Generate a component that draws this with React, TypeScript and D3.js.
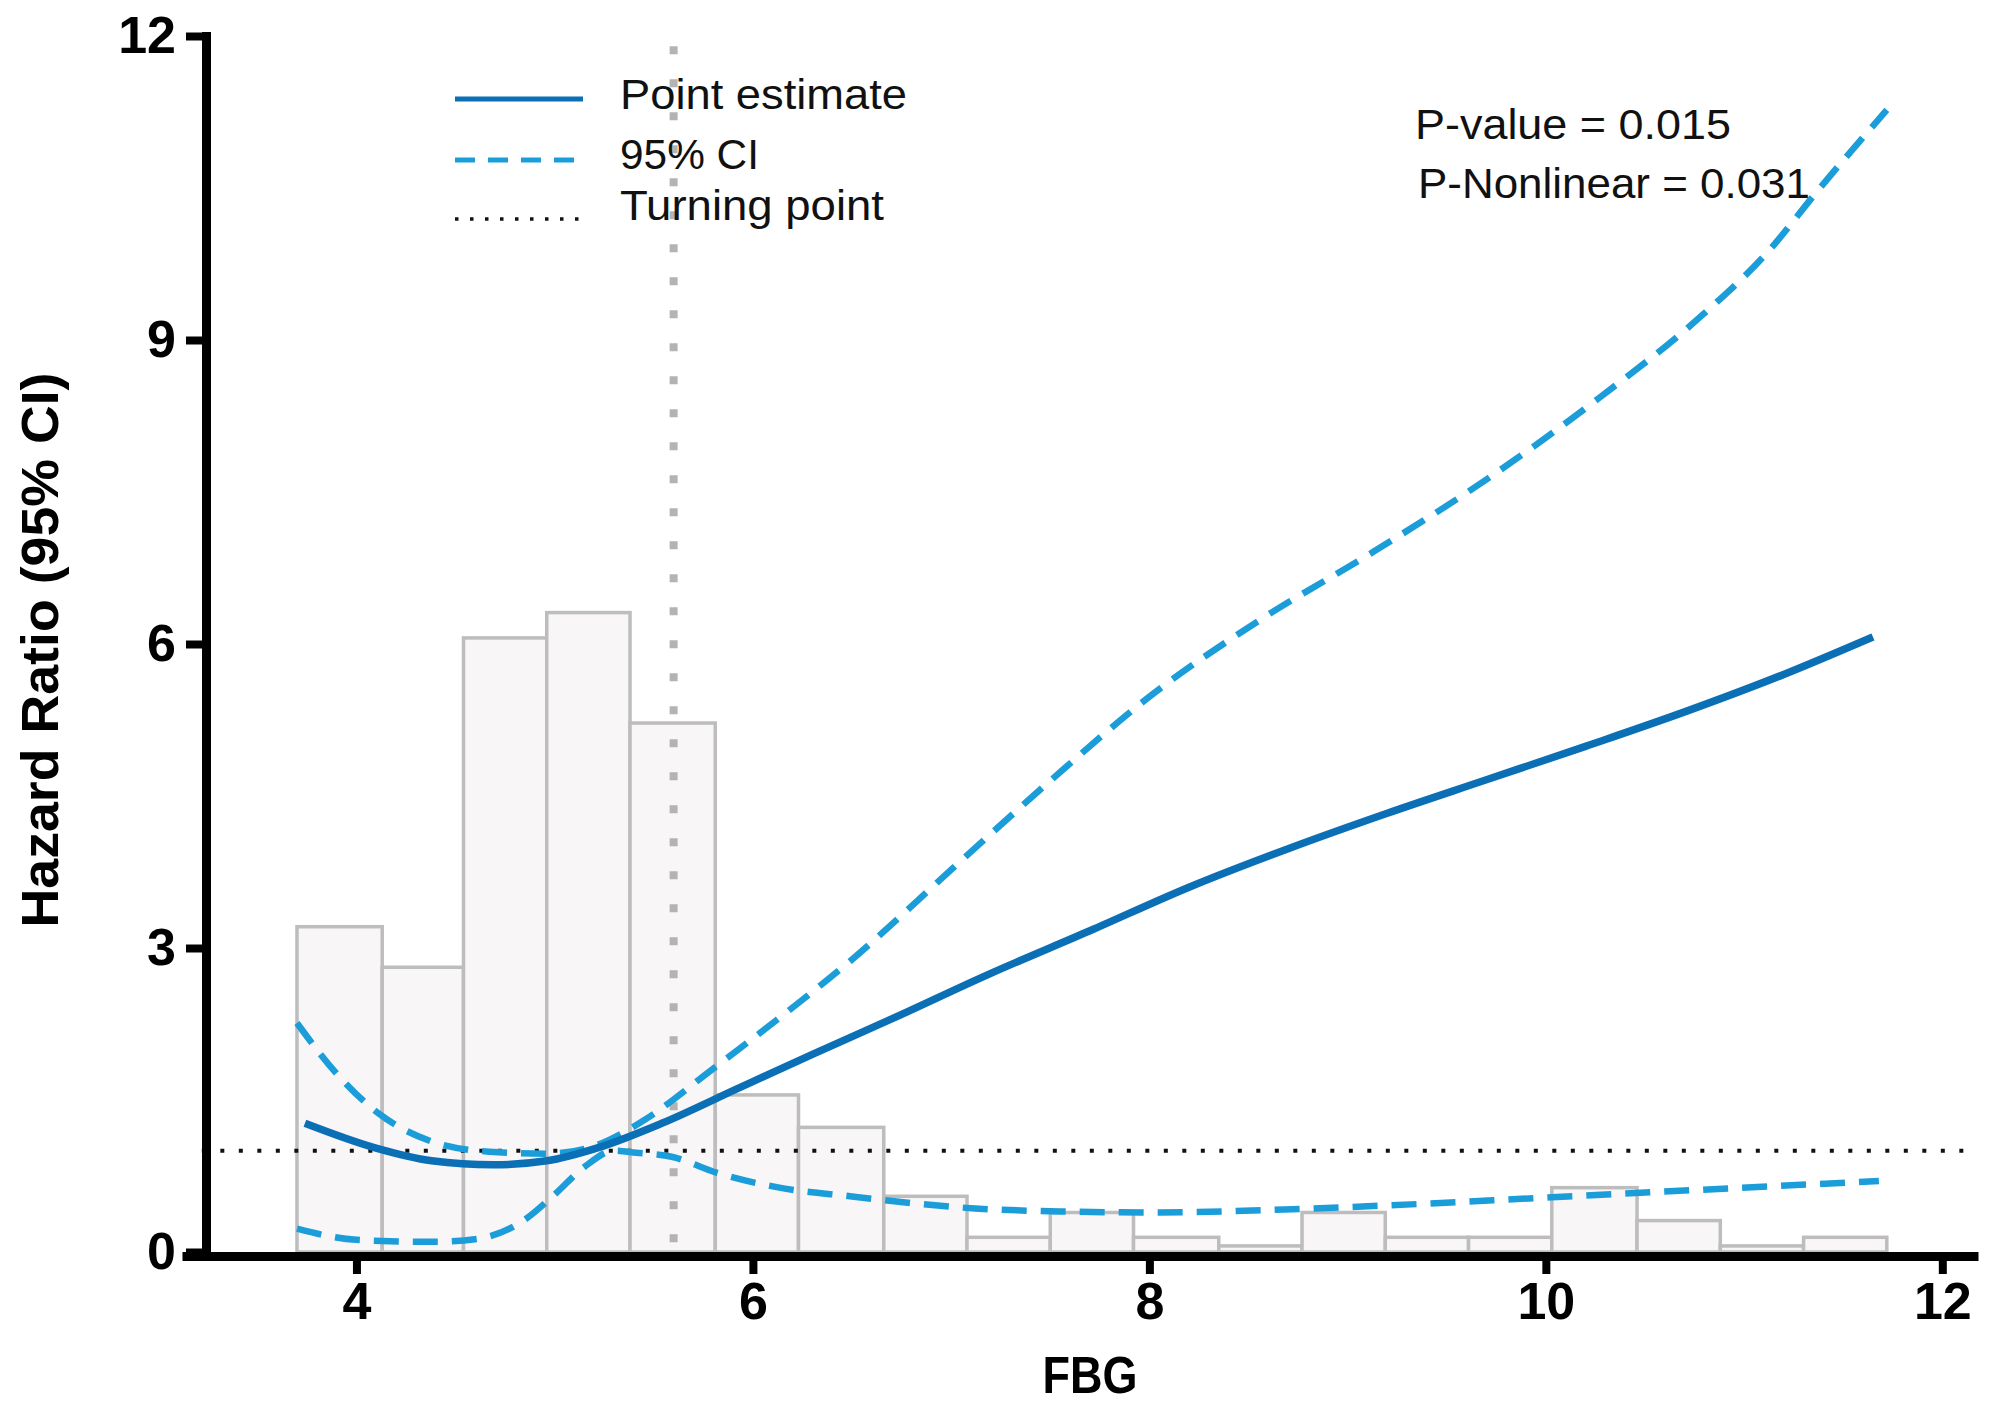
import * as d3 from "d3";
import { useRef, useEffect } from "react";

// histogram of FBG (bin edges and bar heights on the HR scale)
const binEdges = [3.7, 4.13, 4.54, 4.96, 5.38, 5.81, 6.23, 6.66, 7.08, 7.5, 7.92, 8.35, 8.77, 9.19, 9.61, 10.03, 10.46, 10.88, 11.3, 11.72];
const binHeights = [3.21, 2.81, 6.06, 6.31, 5.22, 1.55, 1.23, 0.55, 0.145, 0.39, 0.145, 0.06, 0.39, 0.145, 0.145, 0.635, 0.31, 0.06, 0.145];

// point estimate
const estX = [3.74, 4.09, 4.38, 4.69, 4.96, 5.22, 5.54, 5.93, 6.3, 6.7, 7.2, 7.7, 8.2, 8.7, 9.2, 9.7, 10.2, 10.7, 11.2, 11.65];
const estHR = [1.27, 1.03, 0.9, 0.86, 0.9, 1.03, 1.27, 1.62, 1.95, 2.3, 2.75, 3.17, 3.6, 3.98, 4.33, 4.66, 4.99, 5.33, 5.7, 6.07];

// 95% CI, upper
const upX = [3.7, 3.9, 4.11, 4.38, 4.67, 4.96, 5.22, 5.45, 5.8, 6.12, 6.49, 7.01, 7.5, 8.02, 8.56, 9.13, 9.69, 10.27, 10.78, 11.12, 11.37, 11.72];
const upHR = [2.26, 1.76, 1.37, 1.09, 0.99, 0.97, 1.06, 1.3, 1.81, 2.29, 2.87, 3.79, 4.65, 5.51, 6.24, 6.91, 7.61, 8.43, 9.23, 9.87, 10.47, 11.27];

// 95% CI, lower
const loX = [3.7, 4.0, 4.38, 4.61, 4.85, 4.99, 5.15, 5.3, 5.41, 5.59, 5.82, 6.12, 6.49, 7.12, 7.55, 8.05, 8.68, 9.32, 10.03, 10.74, 11.68];
const loHR = [0.23, 0.12, 0.1, 0.13, 0.32, 0.55, 0.84, 1.0, 0.98, 0.94, 0.78, 0.64, 0.55, 0.43, 0.4, 0.39, 0.42, 0.47, 0.54, 0.61, 0.7];

const xTicks = [4, 6, 8, 10, 12];
const yTicks = [0, 3, 6, 9, 12];
const turningPoint = 5.6;
const refHR = 1;
const refSpan = [3.22, 12.13];

const pValue = "P-value = 0.015";
const pNonlinear = "P-Nonlinear = 0.031";

const W = 1995;
const H = 1404;
const solidBlue = "#0b6fb6";
const dashBlue = "#1b9dd9";
const font = "'Liberation Sans', Arial, sans-serif";

export default function App() {
  const xAxisRef = useRef<SVGGElement | null>(null);
  const yAxisRef = useRef<SVGGElement | null>(null);

  const x = d3.scaleLinear().domain([3.12, 12.18]).range([182, 1978]);
  const y = d3.scaleLinear().domain([0, 12]).range([1252, 36]);

  const line = d3
    .line<[number, number]>()
    .x((d) => x(d[0]))
    .y((d) => y(d[1]))
    .curve(d3.curveMonotoneX);

  const estPts = estX.map((v, i) => [v, estHR[i]] as [number, number]);
  const upPts = upX.map((v, i) => [v, upHR[i]] as [number, number]);
  const loPts = loX.map((v, i) => [v, loHR[i]] as [number, number]);

  useEffect(() => {
    if (xAxisRef.current) {
      const g = d3.select(xAxisRef.current);
      g.call(
        d3
          .axisBottom(x)
          .tickValues(xTicks)
          .tickSize(18)
          .tickSizeOuter(0)
          .tickPadding(8)
          .tickFormat(d3.format("d"))
      );
      g.select(".domain").attr("stroke", "#000").attr("stroke-width", 9);
      g.selectAll(".tick line").attr("stroke", "#000").attr("stroke-width", 8);
      g.selectAll(".tick text")
        .attr("fill", "#000")
        .attr("font-family", font)
        .attr("font-weight", "bold")
        .attr("font-size", 52);
    }
  }, [x]);

  useEffect(() => {
    if (yAxisRef.current) {
      const g = d3.select(yAxisRef.current);
      g.call(
        d3
          .axisLeft(y)
          .tickValues(yTicks)
          .tickSize(20)
          .tickSizeOuter(0)
          .tickPadding(10)
          .tickFormat(d3.format("d"))
      );
      g.select(".domain")
        .attr("stroke", "#000")
        .attr("stroke-width", 9)
        .attr("stroke-linecap", "square");
      g.selectAll(".tick line").attr("stroke", "#000").attr("stroke-width", 8);
      g.selectAll(".tick text")
        .attr("fill", "#000")
        .attr("font-family", font)
        .attr("font-weight", "bold")
        .attr("font-size", 52);
    }
  }, [y]);

  return (
    <svg
      width={W}
      height={H}
      style={{ position: "absolute", left: 0, top: 0, background: "#fff" }}
    >
      {/* histogram */}
      <g fill="#f8f6f7" stroke="#bdbdbd" strokeWidth={3.5}>
        {binHeights.map((h, i) => (
          <rect
            key={i}
            x={x(binEdges[i])}
            y={y(h)}
            width={x(binEdges[i + 1]) - x(binEdges[i])}
            height={y(0) - y(h)}
          />
        ))}
      </g>

      {/* turning point */}
      <line
        x1={x(turningPoint)}
        x2={x(turningPoint)}
        y1={y(11.9)}
        y2={y(0)}
        stroke="#b3b3b3"
        strokeWidth={8}
        strokeDasharray="8 25"
      />

      {/* HR = 1 reference */}
      <line
        x1={x(refSpan[0])}
        x2={x(refSpan[1])}
        y1={y(refHR)}
        y2={y(refHR)}
        stroke="#111"
        strokeWidth={4}
        strokeDasharray="4 14.5"
      />

      <path d={line(upPts) || undefined} fill="none" stroke={dashBlue} strokeWidth={6.5} strokeDasharray="25 14" />
      <path d={line(loPts) || undefined} fill="none" stroke={dashBlue} strokeWidth={6.5} strokeDasharray="25 14" />
      <path d={line(estPts) || undefined} fill="none" stroke={solidBlue} strokeWidth={7.5} />

      <g ref={xAxisRef} transform={`translate(0,1256)`} />
      <g ref={yAxisRef} transform={`translate(206,0)`} />

      {/* legend */}
      <g fontFamily={font} fontSize={42} fill="#111">
        <line x1={455} x2={583} y1={99} y2={99} stroke={solidBlue} strokeWidth={5} />
        <line x1={455} x2={583} y1={160} y2={160} stroke={dashBlue} strokeWidth={5} strokeDasharray="20 13" />
        <line x1={455} x2={580} y1={219} y2={219} stroke="#111" strokeWidth={3.5} strokeDasharray="3.5 11.5" />
        <text x={620} y={109} textLength={287} lengthAdjust="spacingAndGlyphs">Point estimate</text>
        <text x={620} y={169} textLength={139} lengthAdjust="spacingAndGlyphs">95% CI</text>
        <text x={620} y={220} textLength={264} lengthAdjust="spacingAndGlyphs">Turning point</text>
        <text x={1415} y={139} textLength={316} lengthAdjust="spacingAndGlyphs">{pValue}</text>
        <text x={1418} y={198} textLength={392} lengthAdjust="spacingAndGlyphs">{pNonlinear}</text>
      </g>

      {/* axis titles */}
      <text
        x={1090}
        y={1393}
        textAnchor="middle"
        fontFamily={font}
        fontWeight="bold"
        fontSize={52}
        textLength={95}
        lengthAdjust="spacingAndGlyphs"
      >
        FBG
      </text>
      <text
        transform="translate(58,650) rotate(-90)"
        textAnchor="middle"
        fontFamily={font}
        fontWeight="bold"
        fontSize={52}
        textLength={555}
        lengthAdjust="spacingAndGlyphs"
      >
        Hazard Ratio (95% CI)
      </text>
    </svg>
  );
}
